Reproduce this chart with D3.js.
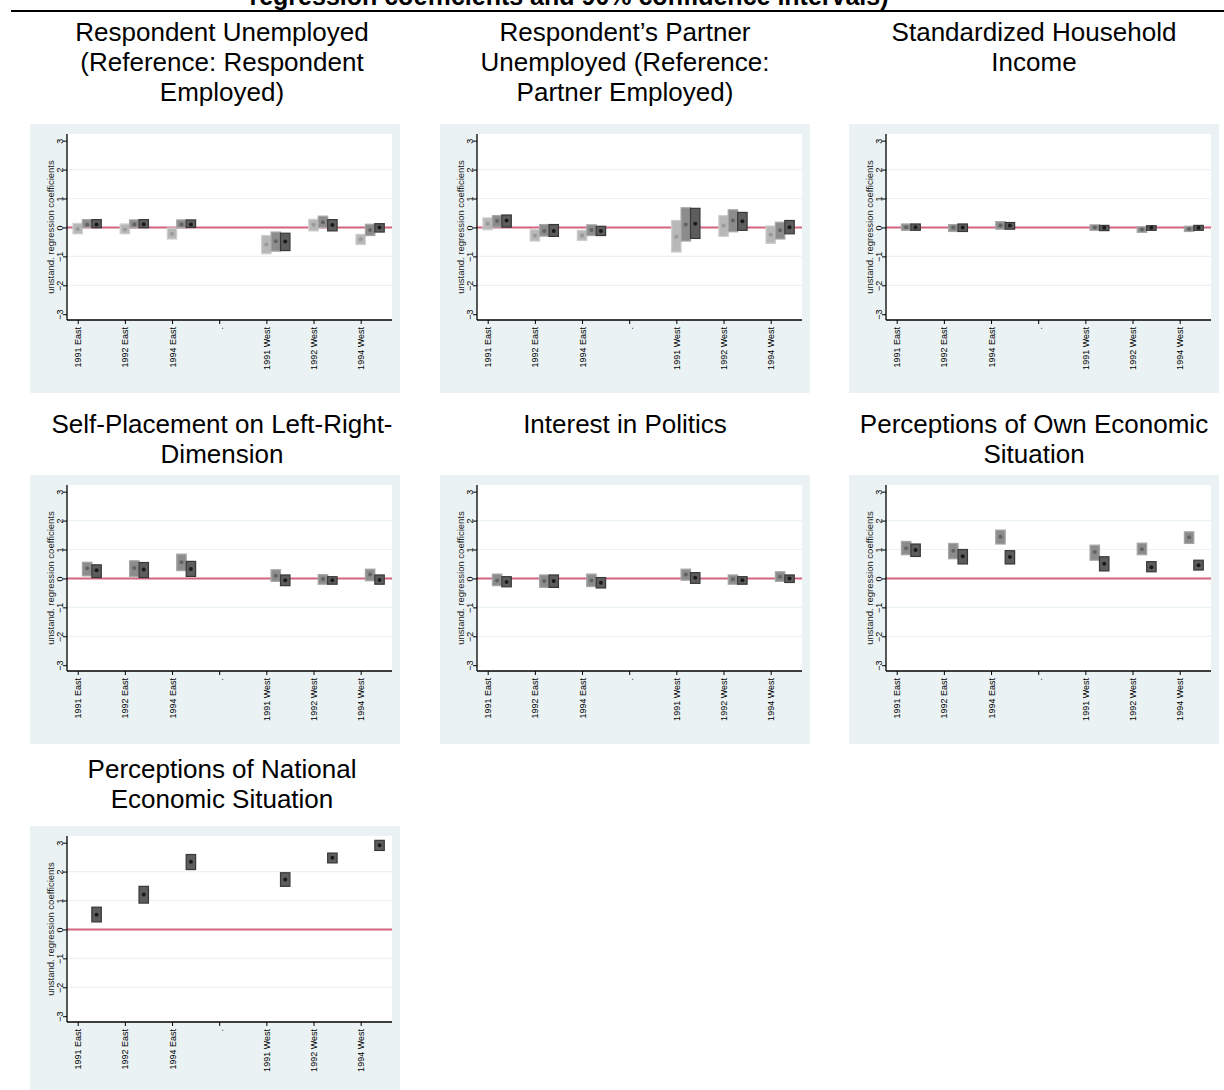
<!DOCTYPE html>
<html><head><meta charset="utf-8">
<script src="https://cdn.jsdelivr.net/npm/d3@7"></script>
<style>body{margin:0;background:#fff;} svg{display:block;}</style>
</head><body><svg id="c" width="1224" height="1090"></svg>
<script>
// ---------- data ----------
const xLabels = ["1991 East","1992 East","1994 East",".","1991 West","1992 West","1994 West"];
const groupPos = [1,2,3,5,6,7];
const yTicks = [-3,-2,-1,0,1,2,3];
const yTitle = "unstand. regression coefficients";
const mainTitle = "regression coefficients and 90% confidence intervals)";
const panelTitles = [
  ["Respondent Unemployed","(Reference: Respondent","Employed)"],
  ["Respondent\u2019s Partner","Unemployed (Reference:","Partner Employed)"],
  ["Standardized Household","Income"],
  ["Self-Placement on Left-Right-","Dimension"],
  ["Interest in Politics"],
  ["Perceptions of Own Economic","Situation"],
  ["Perceptions of National","Economic Situation"]
];
// [estimate, lower, upper] per group
const unempLight  = [[-0.05,-0.22,0.14],[-0.07,-0.22,0.12],[-0.22,-0.40,-0.02],[-0.59,-0.91,-0.28],[0.09,-0.12,0.28],[-0.41,-0.59,-0.24]];
const unempMedium = [[0.09,0.00,0.27],[0.10,-0.01,0.26],[0.10,-0.01,0.26],[-0.48,-0.82,-0.16],[0.18,0.00,0.39],[-0.09,-0.28,0.11]];
const unempDark   = [[0.10,-0.01,0.27],[0.11,-0.01,0.27],[0.10,0.00,0.26],[-0.49,-0.80,-0.20],[0.08,-0.12,0.27],[0.00,-0.16,0.13]];
const partnerLight  = [[0.13,-0.08,0.33],[-0.29,-0.47,-0.08],[-0.28,-0.45,-0.10],[-0.32,-0.85,0.24],[0.06,-0.31,0.41],[-0.25,-0.55,0.05]];
const partnerMedium = [[0.22,0.01,0.41],[-0.12,-0.30,0.10],[-0.09,-0.28,0.09],[0.10,-0.47,0.68],[0.24,-0.15,0.61],[-0.10,-0.40,0.18]];
const partnerDark   = [[0.24,0.01,0.43],[-0.12,-0.31,0.10],[-0.12,-0.28,0.04],[0.13,-0.38,0.66],[0.21,-0.10,0.52],[0.01,-0.22,0.24]];
const incomeMedium = [[0.01,-0.10,0.12],[0.00,-0.14,0.10],[0.07,-0.06,0.20],[0.00,-0.10,0.09],[-0.07,-0.17,0.02],[-0.05,-0.14,0.04]];
const incomeDark   = [[0.01,-0.10,0.12],[0.00,-0.14,0.12],[0.07,-0.06,0.17],[-0.01,-0.11,0.07],[-0.01,-0.10,0.06],[-0.01,-0.10,0.07]];
const leftRightMedium = [[0.35,0.09,0.56],[0.36,0.06,0.61],[0.56,0.27,0.84],[0.09,-0.10,0.30],[-0.02,-0.20,0.13],[0.14,-0.08,0.32]];
const leftRightDark   = [[0.28,0.03,0.47],[0.31,0.03,0.55],[0.33,0.07,0.59],[-0.06,-0.25,0.12],[-0.06,-0.20,0.06],[-0.05,-0.20,0.12]];
const interestMedium = [[-0.07,-0.25,0.15],[-0.09,-0.31,0.12],[-0.07,-0.28,0.15],[0.14,-0.06,0.32],[-0.03,-0.20,0.12],[0.06,-0.10,0.23]];
const interestDark   = [[-0.12,-0.29,0.06],[-0.09,-0.31,0.12],[-0.15,-0.33,0.03],[0.02,-0.17,0.20],[-0.06,-0.20,0.06],[0.00,-0.14,0.12]];
const ownEconMedium = [[1.04,0.82,1.28],[0.96,0.68,1.21],[1.44,1.19,1.67],[0.91,0.63,1.15],[1.01,0.82,1.22],[1.42,1.21,1.61]];
const ownEconDark   = [[0.98,0.76,1.19],[0.77,0.50,1.00],[0.74,0.50,0.96],[0.51,0.26,0.75],[0.39,0.23,0.58],[0.46,0.29,0.63]];
const natEconDark   = [[0.51,0.26,0.77],[1.21,0.91,1.49],[2.34,2.07,2.59],[1.73,1.49,1.96],[2.48,2.30,2.64],[2.91,2.73,3.08]];

const panelSeries = [
  [["light",unempLight],["medium",unempMedium],["dark",unempDark]],
  [["light",partnerLight],["medium",partnerMedium],["dark",partnerDark]],
  [["medium",incomeMedium],["dark",incomeDark]],
  [["medium",leftRightMedium],["dark",leftRightDark]],
  [["medium",interestMedium],["dark",interestDark]],
  [["medium",ownEconMedium],["dark",ownEconDark]],
  [["dark",natEconDark]]
];

// ---------- styles / layout ----------
const shade = {
  light:  {off:0.0, fill:"#b7b7b7", stroke:"#cfcfcf", dot:"#999999"},
  medium: {off:0.2, fill:"#8c8c8c", stroke:"#a6a6a6", dot:"#636363"},
  dark:   {off:0.4, fill:"#5d5d5d", stroke:"#383838", dot:"#1a1a1a"}
};
const FONT = "'Liberation Sans', Arial, Helvetica, sans-serif";
const colX = [30, 440, 849];
const rowTop = [124, 475, 826];
const titleBase = [41, 433, 778];
const titleCX = [222, 625, 1034];
const PW = 370, PH = 269;
const plot = {l:37, r:362, t:10, b:196};

const svg = d3.select("#c");
svg.append("rect").attr("width",1224).attr("height",1090).attr("fill","#fff");

svg.append("text").attr("x",569).attr("y",5).attr("text-anchor","middle")
  .attr("font-family",FONT).attr("font-weight","bold").attr("font-size",25)
  .attr("fill","#000").text(mainTitle);
svg.append("line").attr("x1",11).attr("x2",1224).attr("y1",11).attr("y2",11)
  .attr("stroke","#000").attr("stroke-width",2);

const x = d3.scaleLinear().domain([0.773, 7.664]).range([plot.l, plot.r]);
const y = d3.scaleLinear().domain([-3.2, 3.23]).range([plot.b, plot.t]);
const bw = 0.2;

panelSeries.forEach((series, i) => {
  const col = i % 3, row = Math.floor(i / 3);
  const t = svg.append("text").attr("text-anchor","middle")
    .attr("font-family",FONT).attr("font-size",26).attr("fill","#000");
  panelTitles[i].forEach((ln, k) => {
    t.append("tspan").attr("x",titleCX[col]).attr("y",titleBase[row] + k*30).text(ln);
  });

  const g = svg.append("g").attr("transform",`translate(${colX[col]},${rowTop[row]})`);
  g.append("rect").attr("width",PW).attr("height",PH).attr("fill","#eaf2f3");
  g.append("rect").attr("x",plot.l).attr("y",plot.t).attr("width",plot.r-plot.l)
    .attr("height",plot.b-plot.t).attr("fill","#fff");
  g.selectAll(".grid").data(yTicks.filter(v => v !== 0 && Math.abs(v) < 3)).enter()
    .append("line").attr("x1",plot.l).attr("x2",plot.r)
    .attr("y1",d=>y(d)).attr("y2",d=>y(d))
    .attr("stroke","#eaf2f3").attr("stroke-width",1.2);
  g.append("line").attr("x1",plot.l).attr("x2",plot.r).attr("y1",y(0)).attr("y2",y(0))
    .attr("stroke","#d2657e").attr("stroke-width",2);

  series.forEach(([s, data]) => {
    const st = shade[s];
    const rows = data.map((d, j) => ({pos: groupPos[j] + st.off, est:d[0], lo:d[1], hi:d[2]}));
    g.selectAll(null).data(rows).enter().append("rect")
      .attr("x", d => x(d.pos - bw/2))
      .attr("width", d => x(d.pos + bw/2) - x(d.pos - bw/2))
      .attr("y", d => y(d.hi))
      .attr("height", d => y(d.lo) - y(d.hi))
      .attr("fill", st.fill).attr("stroke", st.stroke).attr("stroke-width",1.2);
    g.selectAll(null).data(rows).enter().append("circle")
      .attr("cx", d => x(d.pos)).attr("cy", d => y(d.est)).attr("r",2)
      .attr("fill", st.dot);
  });

  const ya = g.append("g").attr("transform",`translate(${plot.l},0)`)
    .call(d3.axisLeft(y).tickValues(yTicks).tickSize(4).tickSizeOuter(0).tickFormat(d3.format("d")));
  ya.select(".domain").attr("stroke","#000").attr("stroke-width",1.3)
    .attr("d",`M0,${plot.t}V${plot.b}`);
  ya.selectAll(".tick line").attr("stroke","#000");
  ya.selectAll(".tick text").attr("x",0).attr("y",-4).attr("dy",null)
    .attr("transform","rotate(-90)").attr("text-anchor","middle")
    .attr("font-family",FONT).attr("font-size",9).attr("fill","#000");

  const xa = g.append("g").attr("transform",`translate(0,${plot.b})`)
    .call(d3.axisBottom(x).tickValues([1,2,3,4,5,6,7]).tickSize(4).tickSizeOuter(0)
      .tickFormat(d => xLabels[d-1]));
  xa.select(".domain").attr("stroke","#000").attr("stroke-width",1.3)
    .attr("d",`M${plot.l},0H${plot.r}`);
  xa.selectAll(".tick line").attr("stroke","#000");
  xa.selectAll(".tick text").attr("x",-7).attr("y",3).attr("dy",null)
    .attr("transform","rotate(-90)").attr("text-anchor","end")
    .attr("font-family",FONT).attr("font-size",9).attr("fill","#000");

  g.append("text").attr("transform",`translate(24,${(plot.t+plot.b)/2}) rotate(-90)`)
    .attr("text-anchor","middle").attr("font-family",FONT).attr("font-size",9.5)
    .attr("fill","#222").text(yTitle);
});
</script>
</body></html>
